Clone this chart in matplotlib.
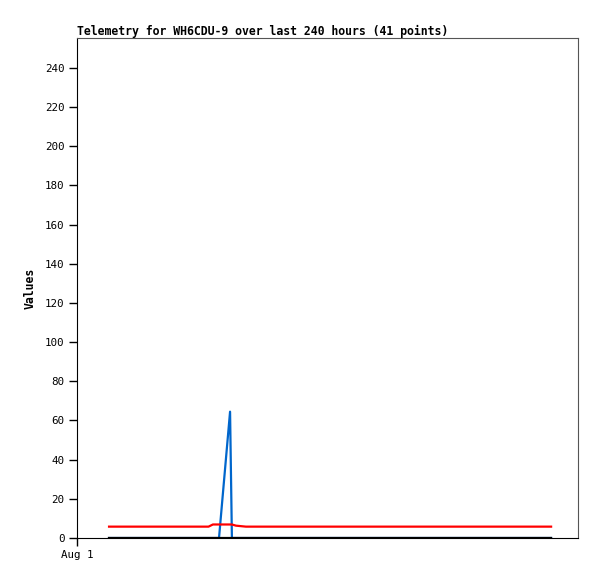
import matplotlib
matplotlib.use("Agg")
import matplotlib.pyplot as plt

# hours since Aug 1 00:00
hours = [17.4, 23.4, 29.4, 35.4, 41.4, 47.4, 53.4, 59.4, 65.4, 71.4,
         73.8, 77.1, 83.1, 84.1, 86.3, 91.7,
         98.3, 104.9, 111.6, 118.2, 124.8, 131.5, 138.1, 144.7, 151.4,
         158.0, 164.6, 171.2, 177.9, 184.5, 191.1, 197.8, 204.4, 211.0,
         217.7, 224.3, 230.9, 237.5, 244.2, 250.8, 257.4]
red_vals = [5.8]*10 + [6.9, 6.9, 6.9, 6.9, 6.3, 5.8] + [5.8]*25
blue_vals = [0]*12 + [64.5] + [0]*28
black_vals = [0]*41

title = "Telemetry for WH6CDU-9 over last 240 hours (41 points)"
yticks = list(range(0, 241, 20))
xtick_pos = [0]
xtick_labels = ["Aug 1"]

font = "DejaVu Sans Mono"
fig = plt.figure(figsize=(5.97, 5.79), dpi=100)
ax = fig.add_axes([77/597, 41/579, 501/597, 500/579])

ax.plot(hours, blue_vals, color="#0066cc", lw=1.6, zorder=2)
ax.plot(hours, red_vals, color="#ff0000", lw=1.6, zorder=3)
ax.plot(hours, black_vals, color="#000000", lw=1.6, zorder=4)

ax.set_xlim(0, 272)
ax.set_ylim(0, 255.3)
ax.set_yticks(yticks)
ax.set_yticklabels([str(v) for v in yticks], fontfamily=font, fontsize=7.8)
ax.set_xticks(xtick_pos)
ax.set_xticklabels(xtick_labels, fontfamily=font, fontsize=7.8)
ax.tick_params(direction="out", length=6, width=1, pad=3)

for s in ["top", "right"]:
    ax.spines[s].set_color("#555555")
for s in ["left", "bottom"]:
    ax.spines[s].set_color("#000000")

ax.set_ylabel("Values", fontfamily=font, fontsize=8.3, fontweight="bold", labelpad=6)
fig.text(77/597, 1 - 31/579, title, fontfamily=font, fontsize=8.3,
         fontweight="bold", ha="left", va="center")

fig.savefig("out.png", dpi=100)
